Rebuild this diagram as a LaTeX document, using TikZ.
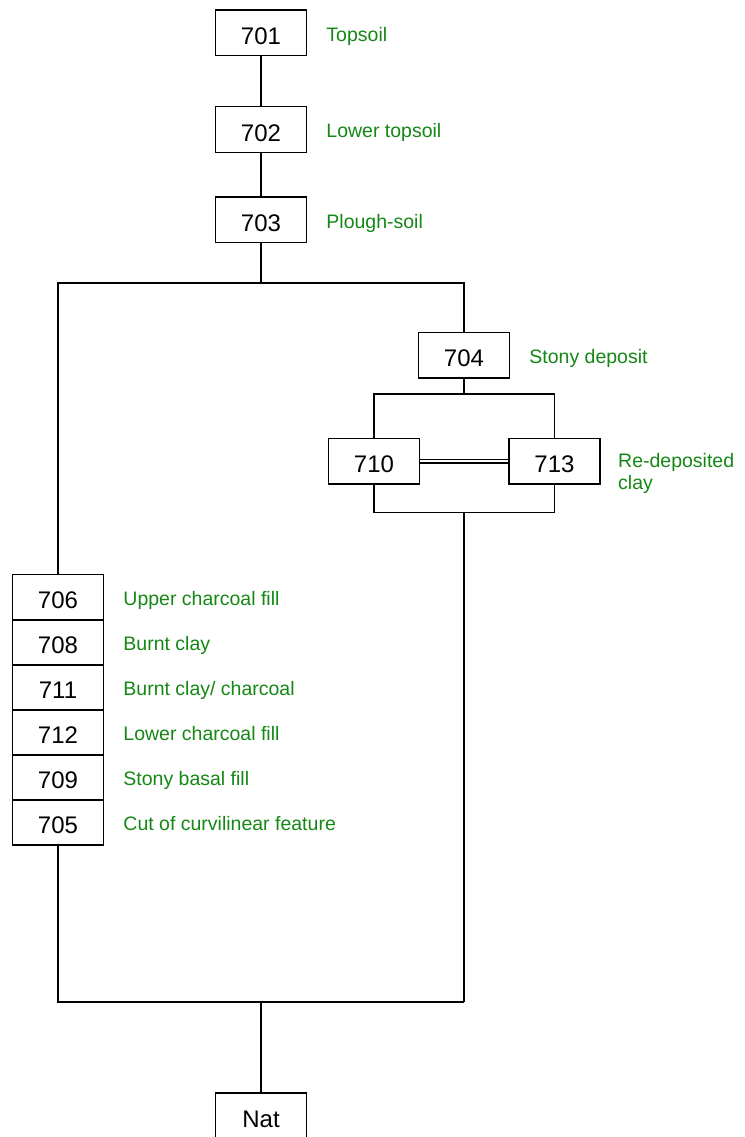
\documentclass[tikz,border=0pt]{standalone}
\usepackage{fontspec}
\setmainfont{Liberation Sans}
\usetikzlibrary{calc}
\definecolor{labgreen}{RGB}{20,135,20}
\begin{document}
\begin{tikzpicture}[x=1pt,y=-1pt,
  ctx/.style={draw, line width=1.5pt, minimum width=91pt, minimum height=45.5pt,
    inner sep=0pt, text height=23pt, text depth=0pt,
    font=\fontsize{24}{28}\selectfont},
  lab/.style={text=labgreen, inner sep=0pt, anchor=base west, xshift=19pt,
    yshift=3pt, font=\fontsize{19.5}{22}\selectfont},
  link/.style={line width=1.5pt}]
\useasboundingbox (0,0) rectangle (744,1137);

% upper sequence
\node[ctx] (b701) at (261,33)    {701};
\node[ctx] (b702) at (261,129.5) {702};
\node[ctx] (b703) at (261,219.5) {703};
\node[lab] (l701) at (b701.base east) {Topsoil};
\node[lab] (l702) at (b702.base east) {Lower topsoil};
\node[lab] (l703) at (b703.base east) {Plough-soil};

% right branch
\node[ctx] (b704) at (464,355)   {704};
\node[ctx] (b710) at (374,461.3) {710};
\node[ctx] (b713) at (554.5,461.3) {713};
\node[lab] (l704) at (b704.base east) {Stony deposit};
\node[text=labgreen, inner sep=0pt, anchor=north west, align=left,
  font=\fontsize{19.5}{22}\selectfont] (l713) at (618,453) {Re-deposited\\clay};

% left stack of fills
\node[ctx] (b706) at (58,597) {706};
\node[ctx] (b708) at (58,642) {708};
\node[ctx] (b711) at (58,687) {711};
\node[ctx] (b712) at (58,732) {712};
\node[ctx] (b709) at (58,777) {709};
\node[ctx] (b705) at (58,822) {705};
\node[lab] (l706) at (b706.base east) {Upper charcoal fill};
\node[lab] (l708) at (b708.base east) {Burnt clay};
\node[lab] (l711) at (b711.base east) {Burnt clay/ charcoal};
\node[lab] (l712) at (b712.base east) {Lower charcoal fill};
\node[lab] (l709) at (b709.base east) {Stony basal fill};
\node[lab] (l705) at (b705.base east) {Cut of curvilinear feature};

% natural
\node[ctx] (bnat) at (261,1115.8) {Nat};

% junction points
\coordinate (j1) at (261,283);
\coordinate (j2) at (464,394);
\coordinate (j3) at (464,512.3);
\coordinate (j4) at (464,1002);
\coordinate (j5) at (261,1002);

% connectors
\draw[link] (b701.south) -- (b702.north);
\draw[link] (b702.south) -- (b703.north);
\draw[link] (b703.south) -- (j1);
\draw[link] (b706.north) |- (j1) -| (b704.north);
\draw[link] (b704.south) -- (j2);
\draw[link] (b710.north) |- (j2) -| (b713.north);
\draw[link] (b710.south) |- (j3) -| (b713.south);
\draw[link] (j3) -- (j4);
\draw[link] (b705.south) |- (j4);
\draw[link] (j5) -- (bnat.north);
\draw[line width=1.5pt, double, double distance=2.3pt] (b710.east) -- (b713.west);
\end{tikzpicture}
\end{document}
